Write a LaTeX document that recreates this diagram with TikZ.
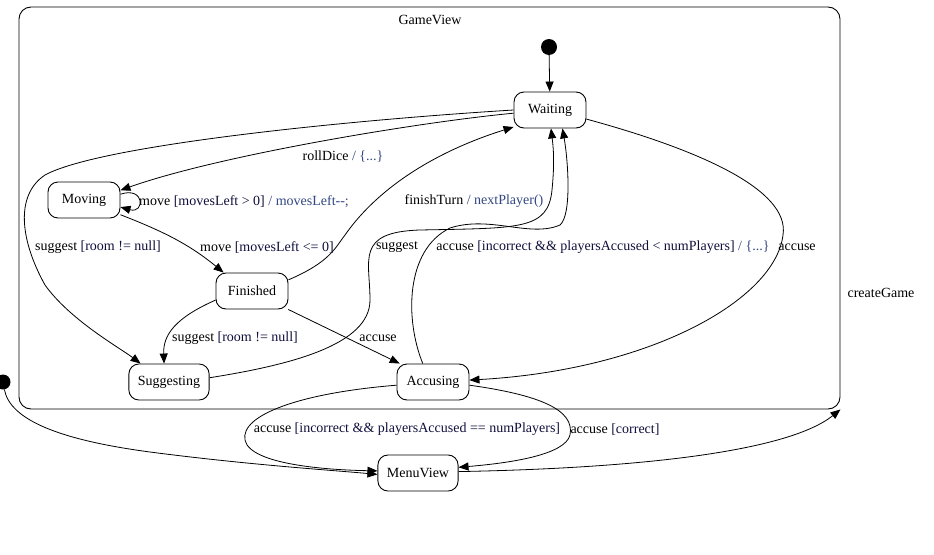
\documentclass[tikz,border=0pt]{standalone}
\usepackage{fontspec}
\setmainfont{Liberation Serif}
\usetikzlibrary{arrows.meta}
\definecolor{guardColor}{RGB}{15,15,60}
\definecolor{actionColor}{RGB}{50,70,130}
\newcommand{\guardtxt}[1]{\textcolor{guardColor}{[#1]}}
\newcommand{\actiontxt}[1]{\textcolor{actionColor}{/ #1}}

\begin{document}
\begin{tikzpicture}
[x=1pt,y=-1pt,font=\fontsize{14}{17}\selectfont,
  stateDecorate/.style={shape=rectangle,rounded corners=10pt,draw,line width=0.9pt,minimum width=72pt,minimum height=36pt,inner xsep=9pt},
  startDecorate/.style={shape=circle,fill,inner sep=0pt,minimum size=16pt},
  clusterDecorate/.style={shape=rectangle,rounded corners=12pt,draw,line width=0.9pt,minimum width=821pt,minimum height=402pt},
  lineDecorate/.style={-{Triangle[length=10pt,width=8pt]},line width=0.8pt},
  labelDecorate/.style={inner sep=1pt,yshift=-1.5pt}]
\useasboundingbox (0,0) rectangle (934,554);
%% cluster
\node (GameView) at (429.5,208) [clusterDecorate] {};
\node (GameViewTitle) at (430,18) [labelDecorate] {GameView};
%% start points
\node (init) at (549,47) [startDecorate] {};
\node (start) at (3,382) [startDecorate,minimum size=15pt] {};
%% states
\foreach \nodename/\x/\y in {Waiting/550/110, Moving/84/200, Finished/252/291,
  Suggesting/169/382, Accusing/433/382, MenuView/418/473} {
  \node (\nodename) at (\x,\y) [stateDecorate] {\nodename};
}
%% edges
\draw[lineDecorate] (init) -- (Waiting);
\draw[lineDecorate] (Waiting.185) .. controls (420,122) and (220,155) .. (Moving.15);
\draw[lineDecorate] (Waiting.west) .. controls (350,120) and (100,145) .. (45,175)
  .. controls (15,195) and (20,240) .. (45,285) .. controls (70,320) and (120,348) .. (Suggesting.147);
\draw[lineDecorate] (Moving.9) .. controls (145,186) and (145,214) .. (Moving.-11);
\draw[lineDecorate] (Moving.-22) .. controls (165,232) and (190,245) .. (Finished.147);
\draw[lineDecorate] (Finished.17) .. controls (330,262) and (335,248) .. (345,235)
  .. controls (380,185) and (440,150) .. (Waiting.205);
\draw[lineDecorate] (Finished.194) .. controls (175,318) and (163,335) .. (Suggesting.105);
\draw[lineDecorate] (Finished.-27) -- (Accusing.151);
\draw[lineDecorate] (Suggesting.6) .. controls (290,365) and (370,345) .. (370,300)
  .. controls (370,260) and (355,232) .. (420,230) .. controls (520,228) and (548,230) .. (552,190)
  .. controls (555,160) and (553,145) .. (Waiting.-87);
\draw[lineDecorate] (Accusing.119) .. controls (405,320) and (405,250) .. (450,228)
  .. controls (490,215) and (530,238) .. (560,225) .. controls (572,215) and (568,160) .. (Waiting.-56);
\draw[lineDecorate] (Waiting.-14) .. controls (700,150) and (790,190) .. (783,235)
  .. controls (775,300) and (650,370) .. (Accusing.3);
\draw[lineDecorate] (Accusing.185) .. controls (300,393) and (240,415) .. (245,440)
  .. controls (250,465) and (330,470) .. (MenuView.177);
\draw[lineDecorate] (Accusing.-5) .. controls (540,395) and (575,410) .. (570,435)
  .. controls (565,455) and (510,463) .. (MenuView.8);
\draw[lineDecorate] (start) .. controls (10,420) and (60,440) .. (150,452)
  .. controls (250,465) and (330,470) .. (MenuView.182);
\draw[lineDecorate] (MenuView.2) .. controls (650,468) and (790,450) .. (GameView.south east);
%% labels
\node (rollLabel) at (343,155) [labelDecorate] {rollDice \actiontxt{\{...\}}};
\node (loopLabel) at (138,200) [labelDecorate,anchor=west] {move \guardtxt{movesLeft > 0} \actiontxt{movesLeft-{}-;}};
\node (suggestRoomLabel) at (98,246) [labelDecorate] {suggest \guardtxt{room != null}};
\node (moveDoneLabel) at (267,246) [labelDecorate] {move \guardtxt{movesLeft <= 0}};
\node (finishLabel) at (474,200) [labelDecorate] {finishTurn \actiontxt{nextPlayer()}};
\node (suggestLabel) at (397,246) [labelDecorate] {suggest};
\node (accuseWrongLabel) at (603,246) [labelDecorate] {accuse \guardtxt{incorrect \&\& playersAccused < numPlayers} \actiontxt{\{...\}}};
\node (accuseLabel) at (797,246) [labelDecorate] {accuse};
\node (createLabel) at (881,291) [labelDecorate] {createGame};
\node (suggestFinLabel) at (235,337) [labelDecorate] {suggest \guardtxt{room != null}};
\node (accuseFinLabel) at (378,337) [labelDecorate] {accuse};
\node (accuseLastLabel) at (407,428) [labelDecorate] {accuse \guardtxt{incorrect \&\& playersAccused == numPlayers}};
\node (accuseRightLabel) at (615,428) [labelDecorate] {accuse \guardtxt{correct}};
\end{tikzpicture}
\end{document}
